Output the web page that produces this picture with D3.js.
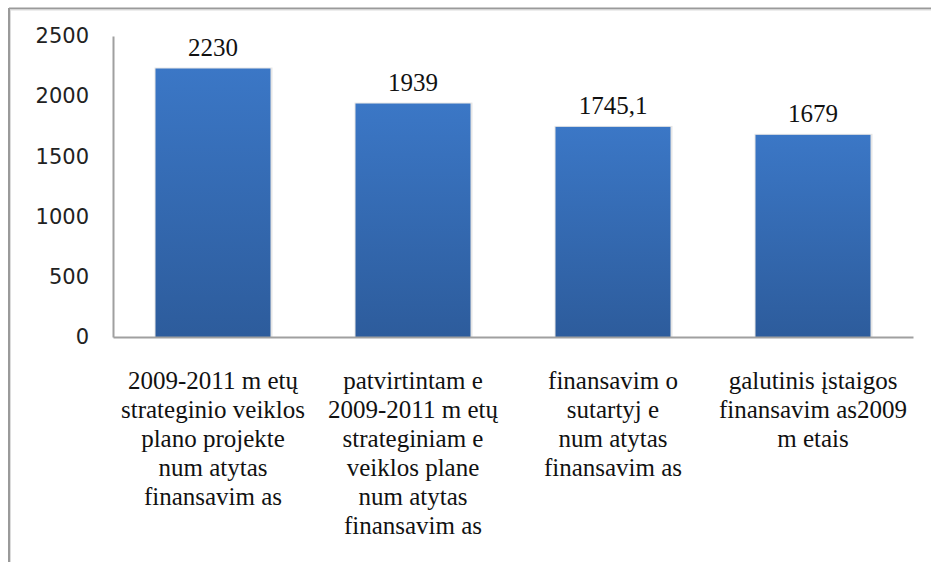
<!DOCTYPE html>
<html><head><meta charset="utf-8">
<script src="https://cdn.jsdelivr.net/npm/d3@7"></script>
<style>
html,body{margin:0;padding:0;background:#fff;}
svg{display:block;}
</style></head>
<body>
<svg id="chart" width="931" height="562"></svg>
<script>
const categories = [
  ["2009-2011 m etų", "strateginio veiklos", "plano projekte", "num atytas", "finansavim as"],
  ["patvirtintam e", "2009-2011 m etų", "strateginiam e", "veiklos plane", "num atytas", "finansavim as"],
  ["finansavim o", "sutartyj e", "num atytas", "finansavim as"],
  ["galutinis įstaigos", "finansavim as2009", "m etais"]
];
const values = [2230, 1939, 1745.1, 1679];
const valueLabels = ["2230", "1939", "1745,1", "1679"];
const yTicks = [0, 500, 1000, 1500, 2000, 2500];

const svg = d3.select("#chart");
const W = 931, H = 562;
const m = {left: 113, right: 18, top: 36, bottom: 225};

const defs = svg.append("defs");
const grad = defs.append("linearGradient").attr("id", "barGrad")
  .attr("x1", 0).attr("y1", 0).attr("x2", 0).attr("y2", 1);
grad.append("stop").attr("offset", "0%").attr("stop-color", "#3b77c6");
grad.append("stop").attr("offset", "100%").attr("stop-color", "#2d5c9c");

// outer frame (only top and left visible)
svg.append("line").attr("x1", 9).attr("x2", W).attr("y1", 8.5).attr("y2", 8.5)
  .attr("stroke", "#9a9a9a").attr("stroke-width", 2);
svg.append("line").attr("x1", 9).attr("x2", 9).attr("y1", 8).attr("y2", H)
  .attr("stroke", "#9a9a9a").attr("stroke-width", 2);
svg.append("line").attr("x1", 10).attr("x2", W).attr("y1", 10).attr("y2", 10)
  .attr("stroke", "#dcdcdc").attr("stroke-width", 1);
svg.append("line").attr("x1", 10.5).attr("x2", 10.5).attr("y1", 10).attr("y2", H)
  .attr("stroke", "#dcdcdc").attr("stroke-width", 1);

const x = d3.scaleBand().domain(d3.range(values.length))
  .range([m.left, W - m.right]).paddingInner(0.425).paddingOuter(0.2125);
const y = d3.scaleLinear().domain([0, 2500]).range([H - m.bottom, m.top]);

// y axis
const yAxis = d3.axisLeft(y).tickValues(yTicks).tickSize(0).tickPadding(24).tickFormat(d3.format("d"));
const gy = svg.append("g").attr("transform", `translate(${m.left},0)`).call(yAxis);
gy.select(".domain").attr("stroke", "#a0a0a0").attr("stroke-width", 2);
gy.selectAll("text").attr("font-family", "DejaVu Sans").attr("font-size", 21)
  .attr("fill", "#222");

// bars shadow
svg.append("g").selectAll("rect.sh").data(values).join("rect")
  .attr("x", (d, i) => x(i) - 1).attr("y", d => y(d) - 1)
  .attr("width", x.bandwidth() + 3).attr("height", d => y(0) - y(d) + 1)
  .attr("fill", "#e6e6e6");
svg.append("g").selectAll("rect.bar").data(values).join("rect")
  .attr("x", (d, i) => x(i)).attr("y", d => y(d))
  .attr("width", x.bandwidth()).attr("height", d => y(0) - y(d))
  .attr("fill", "url(#barGrad)");

// x axis line
const xAxis = d3.axisBottom(x).tickSize(0).tickFormat("");
const gx = svg.append("g").attr("transform", `translate(0,${y(0)})`).call(xAxis);
gx.select(".domain").attr("stroke", "#a0a0a0").attr("stroke-width", 2);

// value labels
svg.append("g").selectAll("text").data(values).join("text")
  .attr("x", (d, i) => x(i) + x.bandwidth() / 2)
  .attr("y", d => y(d) - 13)
  .attr("text-anchor", "middle")
  .attr("font-family", "Liberation Serif").attr("font-size", 25).attr("fill", "#111")
  .text((d, i) => valueLabels[i]);

// category labels
const cg = svg.append("g");
categories.forEach((lines, i) => {
  const t = cg.append("text")
    .attr("x", x(i) + x.bandwidth() / 2)
    .attr("y", y(0) + 52)
    .attr("text-anchor", "middle")
    .attr("font-family", "Liberation Serif").attr("font-size", 25).attr("fill", "#111");
  lines.forEach((ln, j) => {
    t.append("tspan").attr("x", x(i) + x.bandwidth() / 2)
      .attr("dy", j === 0 ? 0 : 29).text(ln);
  });
});
</script>
</body></html>
